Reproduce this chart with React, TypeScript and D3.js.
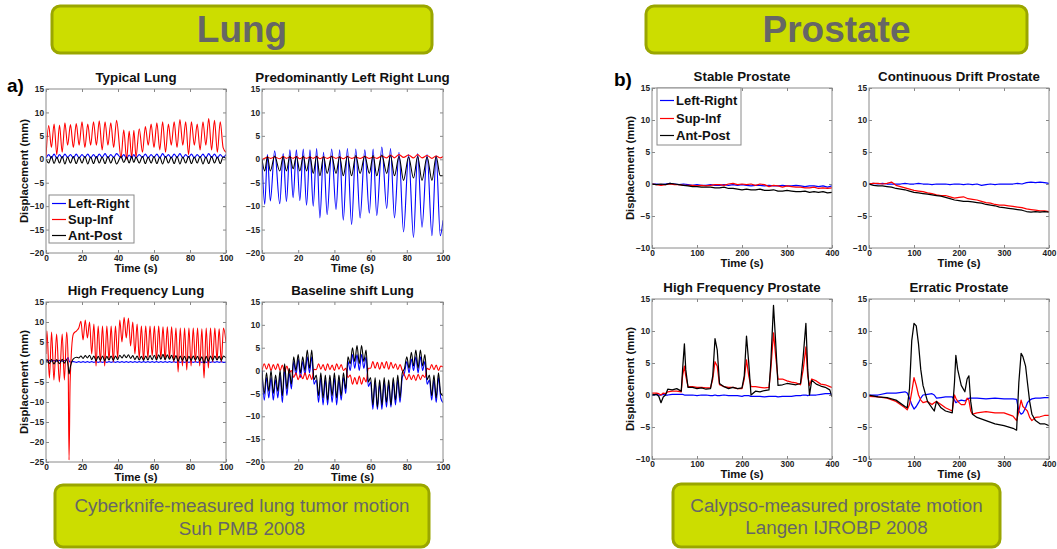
import React, { useEffect, useRef } from "react";
import * as d3 from "d3";

// ---------- tick labels ----------
const lungTimeTicks = [0, 20, 40, 60, 80, 100];
const prostateTimeTicks = [0, 100, 200, 300, 400];
const lungDispTicks = [-20, -15, -10, -5, 0, 5, 10, 15];
const hfLungDispTicks = [-25, -20, -15, -10, -5, 0, 5, 10, 15];
const prostateDispTicks = [-10, -5, 0, 5, 10, 15];
const seriesNames = ["Left-Right", "Sup-Inf", "Ant-Post"];
const seriesColors = ["#0000ff", "#ff0000", "#000000"];

// ---------- Typical Lung (knots at peaks / troughs) ----------
const typicalTime = [0, 1.5, 3, 4.5, 6, 7.5, 9, 10.5, 12, 13.6, 15.2, 16.8, 18.4, 20, 21.6, 23.2, 24.8, 26.4, 28, 29.6, 31.2, 32.8, 34.4, 36, 37.6, 39.2, 41.7, 43.2, 44.8, 46.2, 47.6, 48.8, 50, 51.8, 53.6, 55.2, 56.8, 58.4, 60, 61.6, 63.2, 64.8, 66.4, 68, 69.6, 71.2, 72.8, 74.4, 76, 77.6, 79.2, 80.8, 82.4, 84, 85.6, 87.2, 88.8, 90.4, 92, 93.6, 95.2, 96.8, 98.4, 100];
const typicalLR = [0.2, 1.0, 0.3, 1.1, 0.2, 1.0, 0.3, 1.1, 0.4, 1.0, 0.3, 1.1, 0.3, 1.0, 0.4, 1.1, 0.3, 1.0, 0.3, 1.1, 0.4, 1.2, 0.3, 1.0, 0.4, 1.2, 0.3, 1.0, 0.2, 0.9, 0.3, 1.0, 0.3, 1.0, 0.4, 1.1, 0.3, 1.0, 0.4, 1.1, 0.3, 1.2, 0.4, 1.0, 0.3, 1.1, 0.4, 1.2, 0.3, 1.0, 0.4, 1.1, 0.3, 1.0, 0.4, 1.1, 0.3, 1.2, 0.4, 1.1, 0.3, 1.0, 0.4, 1.0];
const typicalSI = [0.5, 7.2, 2.5, 7.5, 1, 7.3, 1.5, 7.8, 3, 7.4, 2.5, 7.6, 3, 8, 2.5, 7.5, 3, 8, 3, 8.2, 2, 8, 3, 7.8, 2.5, 8.3, 0.3, 6.3, 0, 6, 0.3, 6.2, 0.5, 6.5, 1.5, 7, 3, 7.5, 2.5, 7.8, 2, 8, 1.5, 7.5, 3, 8, 2.5, 8.5, 3, 8, 1, 8, 3, 7.5, 2, 8, 3, 8.7, 2, 8.3, 1.5, 8, 2.5, 1.5];
const typicalAP = [0, -0.8, 0.6, -0.9, 0.5, -0.8, 0.6, -1.0, 0.5, -0.8, 0.6, -0.9, 0.5, -0.8, 0.6, -1.0, 0.5, -0.9, 0.6, -0.8, 0.5, -0.9, 0.6, -0.8, 0.5, -1.0, 0.6, -0.7, 0.5, -0.8, 0.6, -0.7, 0.5, -0.8, 0.6, -0.9, 0.5, -0.8, 0.6, -0.9, 0.5, -1.0, 0.6, -0.8, 0.5, -0.9, 0.6, -1.0, 0.5, -0.8, 0.6, -0.9, 0.5, -0.8, 0.6, -1.0, 0.5, -0.9, 0.6, -0.8, 0.5, -0.9, 0.5, 0.2];

// ---------- Predominantly Left Right Lung ----------
const lrTime = [0, 1.5, 3, 4.6, 7, 9.8, 11.7, 13.5, 15.4, 17.2, 19, 20.9, 22.8, 24.6, 26.5, 28.3, 30.2, 32, 34, 36, 38.5, 40.9, 42.9, 44.9, 47.2, 49.5, 51.8, 54.2, 56.8, 59.3, 61.4, 63.4, 66.2, 68.9, 71, 73.2, 75.7, 78.2, 81, 83.7, 86, 88.4, 91.2, 93.9, 96.2, 98.5, 100];
const lrLR = [0, -9.6, 1, -8.9, 1.8, -9.5, 1.2, -9, 2, -8.2, 2, -8.8, 2.2, -9.8, 2, -10, 2.3, -12.5, 1.5, -11.8, 2.2, -10.7, 2, -13, 2.3, -13.9, 2.2, -12.5, 2, -11.5, 2.2, -12, 2.6, -10.5, 2.3, -12.5, 1.5, -15.5, 1, -16.7, 1.2, -14.5, 1, -16.3, 0.8, -16.3, -13];
const lrSI = [0, 0.2, 0.5, 0.2, 0.5, 0.1, 0.6, 0.2, 0.5, 0.2, 0.6, 0.1, 0.5, 0.2, 0.5, 0.2, 0.6, 0.1, 0.5, 0.2, 0.6, 0.2, 0.5, 0.1, 0.6, 0.2, 0.5, 0.2, 0.6, 0.2, 0.5, 0.2, 0.7, 0.3, 0.9, 0.3, 1.0, 0.4, 0.9, 0.3, 1.0, 0.3, 0.8, 0.2, 0.7, 0.3, 0.6];
const lrAP = [0, -2.5, 0.6, -2.5, 0.7, -2.5, 0.6, -2.5, 0.7, -2, 0.6, -2.5, 0.7, -2.5, 0.6, -3, 0.7, -3.5, 0.6, -3, 0.7, -3, 0.6, -3.5, 0.7, -3.5, 0.8, -3, 0.7, -3, 0.8, -3.5, 0.9, -3, 0.8, -3.5, 0.6, -4.5, 0.5, -4, 0.6, -4.5, 0.5, -4.5, 0.6, -3.5, -3.5];

// ---------- High Frequency Lung ----------
const hfTime = [0, 0.5, 1.9, 3.1, 4.4, 5.9, 7.4, 9, 10.2, 11.5, 12.3, 12.8, 13.4, 15.2, 17, 18.2, 19.4,
  20.6, 21.8, 23, 24.2, 25.4, 26.6, 27.8, 29, 30.2, 31.4, 32.6, 33.8, 35, 36.2, 37.4, 38.6, 39.8, 41, 42.2, 43.4,
  44.6, 45.8, 47, 48.2, 49.4, 50.6, 51.8, 53, 54.2, 55.4, 56.6, 57.8, 59, 60.2, 61.4, 62.6, 63.8, 65, 66.2, 67.4,
  68.6, 69.8, 71, 72.2, 73.4, 74.6, 75.8, 77, 78.2, 79.4, 80.6, 81.8, 83, 84.2, 85.4, 86.6, 87.8, 89, 90.2, 91.4,
  92.6, 93.8, 95, 96.2, 97.4, 98.6, 100];
const hfLR = [0.3, 0.2, 0.4, 0.2, 0.4, 0.2, 0.4, 0.2, 0.4, 0.6, 1.1, 0.3, 0,
  0.1, -0.1, 0.1, -0.1, 0.1, -0.1, 0.1, -0.1, 0.1, -0.1,
  0.1, -0.1, 0.1, -0.1, 0.1, -0.1, 0.1, -0.1, 0.1, -0.1,
  0.1, -0.1, 0.1, -0.1, 0.1, -0.1, 0.1, -0.1, 0.1, -0.1,
  0.1, -0.1, 0.1, -0.1, 0.1, -0.1, 0.1, -0.1, 0.1, -0.1,
  0.1, -0.1, 0.1, -0.1, 0.1, -0.1, 0.1, -0.1, 0.1, -0.1,
  0.1, -0.1, 0.1, -0.1, 0.1, -0.1, 0.1, -0.1, 0.1, -0.1,
  0.1, -0.1, 0.1, -0.1, 0.1, -0.1, 0.1, -0.1, 0.1, -0.1, 0];
const hfSI = [2, 7.8, -4, 7.5, -4.5, 7, -5, 7, -4.5, 7.5, 0, -24.5, -5, 7, 7.8, 8.5, 10.2,
  5.5, 10.5, 6, 10, 2, 9.5, -1, 9, 0, 9, -1, 9, 0.5, 9, 0, 9, 1, 10.5, 5, 11.2,
  6, 11, 4, 10, 2, 9.5, 1, 9, 0.5, 9, 1, 9, 1.5, 9, 0.5, 9, 1, 8.8, 0.5, 8.8,
  1, 8.8, 0, 8.5, -2.5, 8.5, -1, 8.5, -2, 8.5, -1, 8.5, 0, 8.5, -1, 8.3, -4, 8.5,
  -1.5, 8.5, 0, 8.5, 0.5, 8.3, 0, 8.5, 5];
const hfAP = [0, 0.7, -0.4, 0.7, -0.5, 0.6, -0.4, 0.7, -0.3, 0.6, -1, -3, -1.5, 0.8, 1.2, 1.0, 1.5,
  0.9, 1.6, 1.0, 1.7, 0.6, 1.5, 0.3, 1.4, 0.4, 1.5, 0.3, 1.4, 0.5, 1.5, 0.4, 1.5, 0.6, 1.7, 1.0, 1.8,
  1.1, 1.8, 0.9, 1.6, 0.6, 1.5, 0.5, 1.4, 0.4, 1.5, 0.5, 1.6, 0.6, 1.7, 0.5, 1.8, 0.7, 1.9, 0.6, 1.8,
  0.7, 1.7, 0.4, 1.6, 0.2, 1.5, 0.4, 1.4, 0.2, 1.4, 0.4, 1.5, 0.5, 1.4, 0.3, 1.3, -0.3, 1.4,
  0.2, 1.5, 0.4, 1.5, 0.5, 1.4, 0.4, 1.5, 1.0];

// ---------- Baseline shift Lung ----------
const shiftTime = [0, 1.25, 2.5, 3.75, 5, 6.25, 7.5, 8.75, 10, 11.25, 12.5, 13.75, 15, 16.25, 17.5, 18.75, 20, 21.25, 22.5, 23.75, 25, 26.25, 27.5, 28.75, 30, 31.25, 32.5, 33.75, 35, 36.25, 37.5, 38.75, 40, 41.25, 42.5, 43.75, 45, 46.25, 47.5, 48.75, 50, 51.25, 52.5, 53.75, 55, 56.25, 57.5, 58.75, 60, 61.25, 62.5, 63.75, 65, 66.25, 67.5, 68.75, 70, 71.25, 72.5, 73.75, 75, 76.25, 77.5, 78.75, 80, 81.25, 82.5, 83.75, 85, 86.25, 87.5, 88.75, 90, 91.25, 92.5, 93.75, 95, 96.25, 97.5, 98.75, 100];
const shiftLR = [0, -6.5, -1.5, -6, -1.5, -6.5, -2, -6, -1, -7, 0.5, -5.5, -0.5, -4, 2, -1, 2.5, -1.5, 2, -1, 3, -0.5, 3, -3, -2, -7, -1.5, -7.5, -2, -7.5, -2, -7, -1.5, -7.5, -2, -6.5, -1.5, -5, 2, 0, 3.5, 0.5, 3.5, 0, 3.5, 0.5, 3, -3.5, -2.5, -8.5, -2.5, -8.5, -3, -8.5, -2.5, -8, -3, -8, -2.5, -7.5, -2, -7, -1.5, -0.5, 2, -0.5, 2.5, 0, 3, -0.5, 3, 0, 2, -3, -2, -6.5, -2, -7, -1.5, -6, -7];
const shiftSI = [0, 1.5, 0.3, 1.5, 0, 1.3, 0.2, 1.5, 0, 1.2, -0.2, 1, -0.5, 0, -1.5, -0.5, -2, -0.8, -1.8, -0.5, -2, -0.8, -2, 0.3, 0.2, 1.5, 0.3, 1.3, 0, 1.5, 0.2, 1.2, 0, 1.5, 0.3, 1.3, 0, 0.5, -1.5, -1, -3, -1.5, -3, -1.2, -3, -1.5, -2.5, 0.5, 0.5, 2, 0.5, 1.8, 0.3, 1.8, 0.5, 2, 0.3, 1.8, 0.5, 1.5, 0.2, 1.3, 0, -1, -2, -0.8, -2, -1, -2.2, -0.8, -2, -1, -1.5, 0.5, 0.2, 1.3, 0.2, 1.2, 0, 1, 0.8];
const shiftAP = [0, -5, -0.5, -4.5, 0, -5, -1, -4.5, 0, -5.5, 1.5, -4, 0.5, -3, 3, 0, 3.5, -0.5, 3, 0, 4.5, 0.5, 4.5, -2, -1, -5.5, -0.5, -6, -1, -6.5, -1, -5.5, -0.5, -6, -1, -5.5, -0.5, -4, 3, 1.5, 5, 2, 5.5, 1.5, 5.5, 2, 4.5, -2.5, -1.5, -7.5, -1.5, -8, -2, -7.5, -1.5, -7, -2, -7.5, -1.5, -6.5, -1, -6, -0.5, 0.5, 3, 0.5, 4, 1, 4.5, 0.5, 4.5, 1, 3.5, -2, -1, -5.5, -1, -6, -0.5, -5, -5.5];

// ---------- Stable Prostate ----------
const stableTime = [0, 10, 20, 30, 40, 50, 60, 70, 80, 90, 100, 110, 120, 130, 140, 150, 160, 170, 180, 190, 200, 210, 220, 230, 240, 250, 260, 270, 280, 290, 300, 310, 320, 330, 340, 350, 360, 370, 380, 390, 400];
const stableLR = [0, 0, -0.1, 0, 0.1, 0, -0.1, 0, -0.1, -0.2, -0.1, -0.2, -0.2, -0.1, -0.2, -0.2, -0.1, -0.2, -0.1, -0.2, -0.1, -0.2, -0.3, -0.2, -0.2, -0.3, -0.2, -0.3, -0.3, -0.2, -0.3, -0.3, -0.2, -0.3, -0.4, -0.3, -0.3, -0.4, -0.3, -0.5, -0.3];
const stableSI = [0, -0.1, -0.2, -0.1, 0, -0.1, -0.1, -0.2, -0.2, -0.2, -0.3, -0.2, -0.3, -0.2, -0.1, -0.1, -0.2, 0, 0.1, -0.1, 0, -0.1, 0, -0.2, 0, -0.1, -0.4, -0.2, -0.3, -0.5, -0.3, -0.4, -0.5, -0.5, -0.6, -0.6, -0.5, -0.7, -0.6, -0.7, -0.6];
const stableAP = [0, -0.1, 0, -0.1, 0.1, 0, -0.1, -0.2, -0.3, -0.4, -0.4, -0.5, -0.5, -0.5, -0.6, -0.6, -0.5, -0.7, -0.7, -0.8, -0.9, -0.8, -0.9, -0.9, -0.8, -1.0, -1.0, -0.9, -1.1, -1.1, -1.0, -1.1, -1.2, -1.2, -1.1, -1.3, -1.2, -1.3, -1.2, -1.4, -1.3];

// ---------- Continuous Drift Prostate ----------
const driftTime = [0, 10, 20, 30, 40, 50, 60, 70, 80, 90, 100, 110, 120, 130, 140, 150, 160, 170, 180, 190, 200, 210, 220, 230, 240, 250, 260, 270, 280, 290, 300, 310, 320, 330, 340, 350, 360, 370, 380, 390, 400];
const driftLR = [0, 0.1, 0, 0.1, 0, 0, 0, 0, 0.1, 0, 0, 0.1, 0, 0, -0.1, 0, 0, 0, -0.1, 0, 0, -0.1, 0, -0.1, 0, -0.2, -0.1, 0, -0.1, 0, 0, 0, 0, 0.1, 0, 0.2, 0.3, 0.2, 0.3, 0.2, 0.1];
const driftSI = [0, 0.1, 0.1, 0, 0.1, 0.3, -0.2, -0.4, -0.6, -0.8, -1.0, -1.1, -1.2, -1.4, -1.5, -1.7, -1.8, -1.8, -2.0, -2.2, -2.1, -2.0, -2.3, -2.4, -2.5, -2.7, -2.9, -3.0, -3.2, -3.3, -3.3, -3.4, -3.5, -3.6, -3.7, -3.9, -4.0, -4.1, -4.2, -4.2, -4.3];
const driftAP = [0, -0.2, -0.3, -0.3, -0.4, -0.5, -0.7, -0.8, -0.9, -1.1, -1.3, -1.4, -1.5, -1.6, -1.7, -1.8, -1.9, -2.1, -2.3, -2.5, -2.6, -2.7, -2.7, -2.8, -2.9, -3.0, -3.2, -3.3, -3.4, -3.6, -3.7, -3.8, -3.9, -4.0, -4.1, -4.3, -4.4, -4.3, -4.4, -4.3, -4.4];

// ---------- High Frequency Prostate ----------
const hfpTime = [0, 10, 15, 20, 25, 30, 35, 45, 55, 65, 68, 72, 75, 80, 90, 100, 110, 120, 130, 135, 140, 145, 150, 160, 170, 180, 190, 200, 205, 210, 215, 220, 230, 240, 250, 260, 264, 270, 275, 280, 290, 300, 310, 320, 330, 336, 342, 346, 350, 355, 365, 375, 385, 395, 400];
const hfpLR = [0, 0.1, 0, 0, 0.1, 0, 0, 0.1, 0.1, 0.1, 0.1, 0, 0, 0, 0, -0.1, 0, 0, -0.1, -0.1, 0, -0.1, -0.1, 0, -0.1, -0.1, -0.1, -0.2, -0.1, -0.1, -0.1, -0.2, -0.2, -0.2, -0.3, -0.2, -0.2, -0.2, -0.2, -0.3, -0.2, -0.2, -0.2, -0.1, -0.1, 0, 0, -0.1, 0, 0, 0, 0.1, 0.2, 0.2, 0.1];
const hfpSI = [0.3, 0.3, 0.2, 0, 0.3, 0.2, 0.5, 0.6, 0.6, 0.5, 3, 4.5, 3, 1.3, 1.3, 1.2, 1.2, 1.1, 1.1, 2.5, 5.2, 4.5, 1.6, 1.3, 1.2, 1.2, 1.0, 1.0, 2.5, 5.5, 3, 1.3, 1.3, 1.2, 1.1, 1.2, 4, 9.7, 6, 2.5, 2.5, 2.2, 2.0, 1.9, 1.6, 4, 7.5, 3, 1.5, 2.5, 2.2, 1.7, 1.6, 1.3, 1.2];
const hfpAP = [0, 0.1, -0.2, -1.2, -0.3, 0, 0.9, 0.8, 1.0, 0.6, 4, 8, 4, 1.2, 1.2, 1.0, 1.1, 0.9, 1.0, 3, 8.8, 7, 1.8, 1.3, 1.0, 1.2, 1.0, 1.1, 3, 9.2, 5, 0, 0.6, 0.5, 0.7, 0.8, 5, 14, 8, 1.5, 1.6, 1.8, 1.7, 1.6, 1.8, 6, 11.2, 4, 0, 2.3, 1.7, 1.4, 1.2, 0.8, -0.3];

// ---------- Erratic Prostate ----------
const erraticTime = [0, 20, 40, 60, 80, 85, 90, 95, 100, 105, 110, 115, 120, 130, 140, 145, 150, 160, 170, 185, 190, 193, 197, 205, 213, 218, 222, 226, 230, 240, 260, 280, 300, 320, 328, 333, 338, 342, 348, 352, 357, 362, 370, 380, 390, 400];
const erraticLR = [0, 0, 0.3, 0.3, 0.5, 0.3, -0.5, -1.5, -2.2, -1.8, -1.2, -0.5, 0, 0.1, 0.2, 0, -0.5, -0.4, -0.3, -0.3, -0.8, -1.2, -1, -0.8, -0.9, -0.7, -0.5, -0.5, -0.5, -0.5, -0.6, -0.5, -0.6, -0.6, -0.7, -2.5, -3, -2.8, -2, -1.2, -0.8, -0.6, -0.5, -0.5, -0.4, -0.4];
const erraticSI = [-0.2, -0.3, -0.5, -1, -2, -2.3, -1.5, 0.5, 2.7, 1.5, 0, -0.8, -1.2, -1, -1.5, -1.2, -1, -1.5, -2, -2.5, 0, -0.5, -1, -1.5, -1.5, -0.5, -0.8, -2.5, -3, -2.8, -2.6, -2.8, -2.8, -3.3, -4, -2.5, -0.8, -1.8, -2.2, -2.5, -3.5, -4, -3.5, -3.4, -3.2, -3.2];
const erraticAP = [0, -0.3, -0.4, -0.8, -1.8, -2, 1, 8.5, 11.2, 10.8, 8, 4, 1.5, -1, -2, -2.5, -1, -2, -2.5, -2.8, 2, 6.2, 4, 1.5, 0.5, 2.5, 3, -1, -3, -3.5, -4, -4.5, -4.8, -5.2, -5.5, 2, 6.5, 6, 4.5, 2, -1, -3, -4, -4.5, -4.5, -4.8];

const W = 1057;
const H = 549;
const FONT = "Arial, 'Liberation Sans', Helvetica, sans-serif";

const panels = [
  { title: "Typical Lung", left: 46, top: 89, width: 180, height: 164, xMax: 100, xTicks: lungTimeTicks, yTicks: lungDispTicks,
    time: typicalTime, series: [typicalLR, typicalSI, typicalAP], smooth: true, yLabel: true,
    legend: { x: 49, y: 195, w: 85, h: 48, rows: [208, 224, 240] } },
  { title: "Predominantly Left Right Lung", left: 262, top: 89, width: 181, height: 164, xMax: 100, xTicks: lungTimeTicks, yTicks: lungDispTicks,
    time: lrTime, series: [lrLR, lrSI, lrAP], smooth: true, yLabel: false },
  { title: "High Frequency Lung", left: 46, top: 302, width: 180, height: 160, xMax: 100, xTicks: lungTimeTicks, yTicks: hfLungDispTicks,
    time: hfTime, series: [hfLR, hfSI, hfAP], smooth: true, yLabel: true },
  { title: "Baseline shift Lung", left: 262, top: 302, width: 181, height: 160, xMax: 100, xTicks: lungTimeTicks, yTicks: lungDispTicks,
    time: shiftTime, series: [shiftLR, shiftSI, shiftAP], smooth: true, yLabel: false },
  { title: "Stable Prostate", left: 652, top: 88, width: 180, height: 160, xMax: 400, xTicks: prostateTimeTicks, yTicks: prostateDispTicks,
    time: stableTime, series: [stableLR, stableSI, stableAP], smooth: false, yLabel: true,
    legend: { x: 657, y: 88, w: 84, h: 57, rows: [105, 123, 140] } },
  { title: "Continuous Drift Prostate", left: 869, top: 88, width: 180, height: 160, xMax: 400, xTicks: prostateTimeTicks, yTicks: prostateDispTicks,
    time: driftTime, series: [driftLR, driftSI, driftAP], smooth: false, yLabel: false },
  { title: "High Frequency Prostate", left: 652, top: 299, width: 180, height: 160, xMax: 400, xTicks: prostateTimeTicks, yTicks: prostateDispTicks,
    time: hfpTime, series: [hfpLR, hfpSI, hfpAP], smooth: false, yLabel: true },
  { title: "Erratic Prostate", left: 869, top: 299, width: 180, height: 160, xMax: 400, xTicks: prostateTimeTicks, yTicks: prostateDispTicks,
    time: erraticTime, series: [erraticLR, erraticSI, erraticAP], smooth: false, yLabel: false },
];

const banners = [
  { x: 52, y: 6, w: 380, h: 47, lines: ["Lung"], size: 37, bold: true, baselines: [42] },
  { x: 646, y: 6, w: 381, h: 47, lines: ["Prostate"], size: 37, bold: true, baselines: [42] },
  { x: 55, y: 485, w: 374, h: 62, lines: ["Cyberknife-measured lung tumor motion", "Suh PMB 2008"], size: 18.8, bold: false, baselines: [512, 535] },
  { x: 673, y: 484, w: 327, h: 63, lines: ["Calypso-measured prostate motion", "Langen IJROBP 2008"], size: 18.8, bold: false, baselines: [512, 534] },
];

const App = () => {
  const ref = useRef<SVGSVGElement>(null);

  useEffect(() => {
    const svg = d3.select(ref.current);
    svg.selectAll("*").remove();
    svg.append("rect").attr("width", W).attr("height", H).attr("fill", "#fff");

    // banners
    banners.forEach((b) => {
      svg.append("rect")
        .attr("x", b.x).attr("y", b.y).attr("width", b.w).attr("height", b.h)
        .attr("rx", 8).attr("fill", "#ccdd00").attr("stroke", "#9aa600").attr("stroke-width", 3);
      b.lines.forEach((t, i) => {
        svg.append("text")
          .attr("x", b.x + b.w / 2).attr("y", b.baselines[i])
          .attr("text-anchor", "middle")
          .attr("font-family", FONT).attr("font-size", b.size)
          .attr("font-weight", b.bold ? "bold" : "normal")
          .attr("fill", "#666")
          .text(t);
      });
    });

    svg.append("text").attr("x", 7).attr("y", 92).attr("font-family", FONT)
      .attr("font-size", 19).attr("font-weight", "bold").text("a)");
    svg.append("text").attr("x", 614).attr("y", 86).attr("font-family", FONT)
      .attr("font-size", 19).attr("font-weight", "bold").text("b)");

    panels.forEach((p, i) => {
      const x = d3.scaleLinear().domain([0, p.xMax]).range([p.left, p.left + p.width]);
      const y = d3.scaleLinear()
        .domain([p.yTicks[0], p.yTicks[p.yTicks.length - 1]])
        .range([p.top + p.height, p.top]);
      const g = svg.append("g");

      g.append("clipPath").attr("id", `clip${i}`).append("rect")
        .attr("x", p.left).attr("y", p.top).attr("width", p.width).attr("height", p.height);

      const styleAxis = (a: any) => {
        a.select(".domain").remove();
        a.attr("font-family", FONT).attr("font-size", 8.3).attr("font-weight", "bold");
        a.selectAll("line").attr("stroke", "#888");
        a.selectAll("text").attr("fill", "#222");
      };

      g.append("g").attr("transform", `translate(0,${p.top + p.height})`)
        .call(d3.axisBottom(x).tickValues(p.xTicks).tickSize(-3).tickPadding(2)).call(styleAxis);
      g.append("g").attr("transform", `translate(0,${p.top})`)
        .call(d3.axisTop(x).tickValues(p.xTicks).tickSize(-3).tickFormat(() => "")).call(styleAxis);
      g.append("g").attr("transform", `translate(${p.left},0)`)
        .call(d3.axisLeft(y).tickValues(p.yTicks).tickSize(-3).tickPadding(2)).call(styleAxis);
      g.append("g").attr("transform", `translate(${p.left + p.width},0)`)
        .call(d3.axisRight(y).tickValues(p.yTicks).tickSize(-3).tickFormat(() => "")).call(styleAxis);

      const line = d3.line<number>()
        .x((_, k) => x(p.time[k]))
        .y((v) => y(v))
        .curve(p.smooth ? d3.curveMonotoneX : d3.curveLinear);

      const lines = g.append("g").attr("clip-path", `url(#clip${i})`);
      p.series.forEach((vals, s) => {
        lines.append("path").datum(vals)
          .attr("d", line)
          .attr("fill", "none")
          .attr("stroke", seriesColors[s])
          .attr("stroke-width", p.smooth ? 1.1 : 1.25)
          .attr("stroke-linejoin", "round");
      });

      g.append("rect")
        .attr("x", p.left).attr("y", p.top).attr("width", p.width).attr("height", p.height)
        .attr("fill", "none").attr("stroke", "#8a8a8a").attr("stroke-width", 1);

      g.append("text")
        .attr("x", p.left + p.width / 2).attr("y", p.top - 7)
        .attr("text-anchor", "middle").attr("font-family", FONT)
        .attr("font-size", 13.3).attr("font-weight", "bold").attr("fill", "#111")
        .text(p.title);

      g.append("text")
        .attr("x", p.left + p.width / 2).attr("y", p.top + p.height + 19)
        .attr("text-anchor", "middle").attr("font-family", FONT)
        .attr("font-size", 11.3).attr("font-weight", "bold").attr("fill", "#111")
        .text("Time (s)");

      if (p.yLabel) {
        g.append("text")
          .attr("transform", `translate(${p.left - 18},${p.top + p.height / 2}) rotate(-90)`)
          .attr("text-anchor", "middle").attr("font-family", FONT)
          .attr("font-size", 11.3).attr("font-weight", "bold").attr("fill", "#111")
          .text("Displacement (mm)");
      }

      if (p.legend) {
        const L = p.legend;
        g.append("rect").attr("x", L.x).attr("y", L.y).attr("width", L.w).attr("height", L.h)
          .attr("fill", "#fff").attr("stroke", "#8a8a8a");
        seriesNames.forEach((name, s) => {
          g.append("line")
            .attr("x1", L.x + 3).attr("x2", L.x + 17)
            .attr("y1", L.rows[s] - 4.5).attr("y2", L.rows[s] - 4.5)
            .attr("stroke", seriesColors[s]).attr("stroke-width", 1.2);
          g.append("text")
            .attr("x", L.x + 19).attr("y", L.rows[s])
            .attr("font-family", FONT).attr("font-size", 13).attr("font-weight", "bold")
            .attr("fill", "#111").text(name);
        });
      }
    });
  }, []);

  return (
    <svg ref={ref} width={W} height={H} style={{ position: "absolute", left: 0, top: 0 }} />
  );
};

export default App;
